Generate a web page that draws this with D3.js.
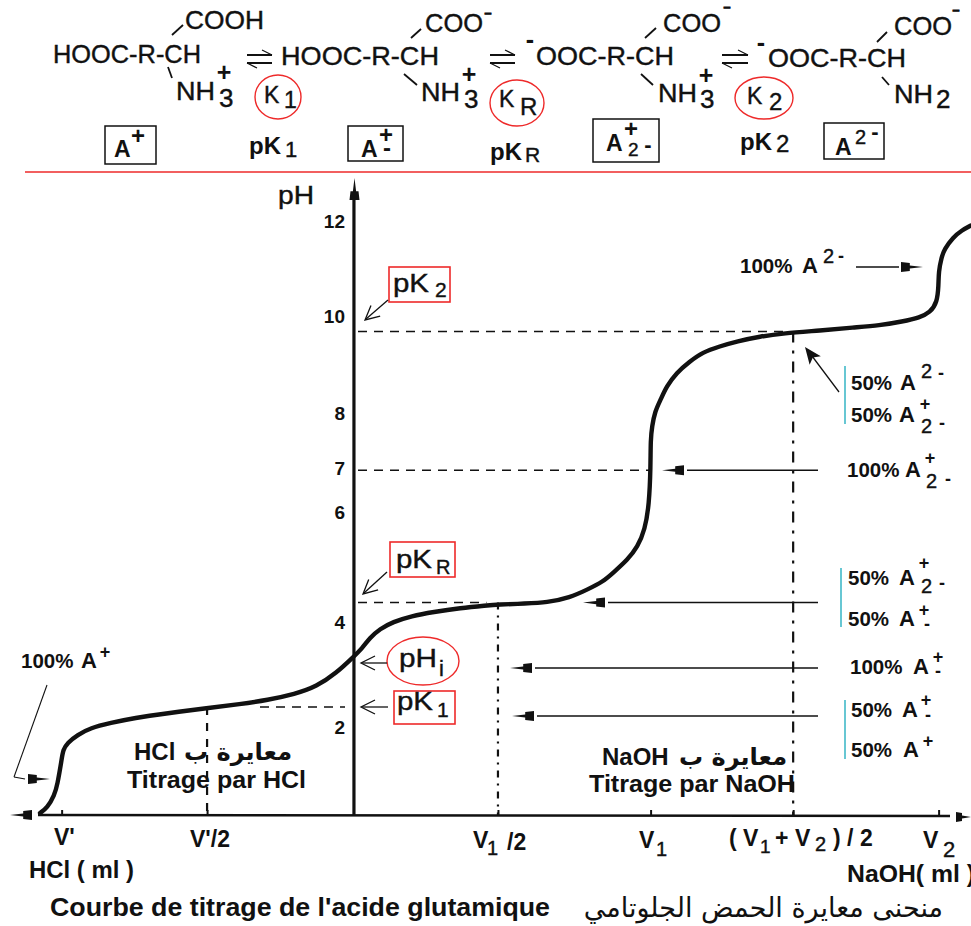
<!DOCTYPE html>
<html>
<head>
<meta charset="utf-8">
<script src="https://cdn.jsdelivr.net/npm/d3@7"></script>
<style>
    html, body { margin: 0; background: #fff; }
    svg { display: block; }
    text { font-family: "Liberation Sans", Arial, sans-serif; fill: #111; }
</style>
</head>
<body>
<svg id="chart"></svg>
<script>
// titration curve: added volume (0 = isoelectric point) and pH
const volumes = [-2.18, -2.13, -2.08, -2.06, -2.03, -2.02, -1.99, -1.92, -1.83, -1.69, -1.53, -1.28, -1.02,
    -0.79, -0.60, -0.41, -0.26, -0.12, -0.01, 0.06, 0.11, 0.18, 0.27, 0.40, 0.55, 0.74, 0.92, 1.0, 1.19, 1.34,
    1.50, 1.62, 1.73, 1.80, 1.90, 1.97, 2.02, 2.05, 2.06, 2.06, 2.07, 2.09, 2.13, 2.17, 2.24, 2.33, 2.42, 2.54,
    2.66, 2.82, 2.98, 3.24, 3.47, 3.65, 3.81, 3.93, 4.0, 4.05, 4.06, 4.06, 4.08, 4.10, 4.16, 4.22, 4.285];
const phValues = [0.04, 0.14, 0.40, 0.60, 1.11, 1.31, 1.45, 1.61, 1.75, 1.85, 1.95, 2.05, 2.15,
    2.23, 2.31, 2.43, 2.58, 2.86, 3.16, 3.36, 3.56, 3.74, 3.88, 4.00, 4.08, 4.16, 4.21, 4.23, 4.25, 4.27,
    4.37, 4.53, 4.69, 4.87, 5.13, 5.39, 5.73, 6.24, 7.00, 7.55, 7.81, 8.11, 8.35, 8.61, 8.89, 9.11, 9.30, 9.42,
    9.52, 9.62, 9.68, 9.74, 9.80, 9.84, 9.92, 10.0, 10.10, 10.30, 10.66, 10.91, 11.21, 11.37, 11.61, 11.75, 11.85];

const phTicks = [2, 4, 6, 7, 8, 10, 12];
const volumeTicks = [-2.03, -1.02, 1.0, 2.06, 3.05, 4.06];

const pK1 = 2.17, pKR = 4.27, pK2 = 9.72, pH7 = 6.93;
const vPrimeHalf = -1.02, v1Half = 1.0, vMid = 3.05, v1 = 2.06;

const width = 971, height = 926;
const svg = d3.select('#chart').attr('width', width).attr('height', height);

const x = d3.scaleLinear().domain([-2.458, 4.285]).range([0, width]);
const y = d3.scaleLinear().domain([0, 12]).range([815, 218]);

const ink = '#111', red = '#ee2a2a', teal = '#35b4c4';

// text helpers, everything stays real text
function txt(px, py, str, size, opts = {}) {
    const t = svg.append('text')
        .attr('x', px).attr('y', py)
        .attr('font-size', size)
        .attr('font-weight', opts.weight || 'normal')
        .attr('text-anchor', opts.anchor || 'start')
        .style('font-family', opts.family || null)
        .text(str);
    // the scan is heavier than a plain regular weight
    if (!opts.weight && !opts.family) t.attr('stroke', ink).attr('stroke-width', 0.4);
    if (opts.len) t.attr('textLength', opts.len).attr('lengthAdjust', 'spacingAndGlyphs');
    return t;
}
const bold = (px, py, str, size, len) => txt(px, py, str, size, { weight: 'bold', len });
const sign = (cx, cy, ch, size) => txt(cx, cy + size * (ch === '+' ? 0.33 : 0.27), ch, size, { weight: 'bold', anchor: 'middle' });
// small charge marks along the top edge
const topDash = (cx, cy) => txt(cx, cy + 3.4, '–', 12.5, { weight: 'bold', anchor: 'middle' }).attr('stroke', ink).attr('stroke-width', 0.9);

function seg(x1, y1, x2, y2, w = 1.5, color = ink, dash = null) {
    return svg.append('line')
        .attr('x1', x1).attr('y1', y1).attr('x2', x2).attr('y2', y2)
        .attr('stroke', color).attr('stroke-width', w)
        .attr('stroke-dasharray', dash);
}

// the little solid arrowheads, tip at (tx, ty) pointing along angle
function head(tx, ty, angle, len = 22) {
    const g = svg.append('g').attr('transform', `translate(${tx},${ty}) rotate(${angle})`);
    g.append('path').attr('d', `M0,0 L${-len * 0.6},-1.6 L${-len * 0.6},-4 L${-len},-5 L${-len},5 L${-len * 0.6},4 L${-len * 0.6},1.6 Z`)
        .attr('fill', ink);
}
function solidTip(tx, ty, angle) {
    const g = svg.append('g').attr('transform', `translate(${tx},${ty}) rotate(${angle})`);
    g.append('path').attr('d', 'M0,0 L-17,-7 L-13,0 L-17,7 Z').attr('fill', ink);
}
function openHead(tx, ty, angle) {
    const g = svg.append('g').attr('transform', `translate(${tx},${ty}) rotate(${angle})`);
    g.append('path').attr('d', 'M-14,-7 L0,0 L-14,7')
        .attr('fill', 'none').attr('stroke', ink).attr('stroke-width', 1.3);
}
function equilibrium(x1, x2, yc) {
    seg(x1, yc - 4, x2, yc - 4, 2);
    seg(x1, yc + 4, x2, yc + 4, 2);
    seg(x2 - 10, yc - 9, x2, yc - 4, 1.2);
    seg(x1 + 10, yc + 9, x1, yc + 4, 1.2);
}

// ---- formula row ----
const fs = 25;
txt(53, 63, 'HOOC-R-CH', fs, { len: 148 });
txt(185, 29, 'COOH', fs, { len: 79 });
seg(172, 35, 183, 25, 1.8);
seg(168, 67, 172, 78, 1.8);
txt(176, 100, 'NH', fs, { len: 39 }); txt(219, 107, '3', 26); sign(224, 73, '+', 25);

equilibrium(247, 272, 59);

txt(281, 65, 'HOOC-R-CH', fs, { len: 158 });
txt(425, 32, 'COO', fs, { len: 58 }); topDash(488, 14);
seg(411, 38, 421, 29, 1.8);
seg(404, 74, 417, 85, 1.8);
txt(421, 101, 'NH', fs, { len: 39 }); txt(464, 108, '3', 26); sign(469, 75, '+', 25);

equilibrium(490, 515, 59);

sign(530, 41, '-', 25);
txt(536, 65, 'OOC-R-CH', fs, { len: 138 });
txt(663, 32, 'COO', fs, { len: 58 }); topDash(727, 8);
seg(645, 38, 656, 28, 1.8);
seg(641, 74, 653, 85, 1.8);
txt(658, 102, 'NH', fs, { len: 39 }); txt(700, 108, '3', 26); sign(706, 76, '+', 25);

equilibrium(722, 748, 59);

sign(761, 44, '-', 25);
txt(768, 67, 'OOC-R-CH', fs, { len: 138 });
txt(894, 35, 'COO', fs, { len: 58 }); topDash(956, 11);
seg(877, 42, 887, 32, 1.8);
seg(882, 77, 889, 85, 1.8);
txt(894, 103, 'NH', fs, { len: 39 }); txt(936, 108, '2', 26);

// equilibrium constants in their red ellipses
function ellipse(cx, cy, rx, ry) {
    svg.append('ellipse').attr('cx', cx).attr('cy', cy).attr('rx', rx).attr('ry', ry)
        .attr('fill', 'none').attr('stroke', red).attr('stroke-width', 1.4);
}
ellipse(278, 97, 23, 22);
txt(264, 103, 'K', 23); txt(284, 108, '1', 23);
ellipse(517, 103, 27, 23);
txt(499, 107, 'K', 23); txt(520, 115, 'R', 24);
ellipse(764, 98, 29, 21);
txt(747, 104, 'K', 23); txt(769, 110, '2', 24);

// species boxes
function box(x1, y1, x2, y2, color = ink, w = 1.5) {
    svg.append('rect').attr('x', x1).attr('y', y1).attr('width', x2 - x1).attr('height', y2 - y1)
        .attr('fill', 'none').attr('stroke', color).attr('stroke-width', w);
}
box(105, 126, 156, 164);
bold(114, 157, 'A', 23); sign(138, 136, '+', 24);
box(348, 126, 403, 161);
bold(361, 157, 'A', 23); sign(386, 135, '+', 24); sign(387, 150, '-', 24);
box(593, 119, 659, 162);
bold(606, 151, 'A', 23); sign(631, 129, '+', 24); txt(628, 156, '2', 19); sign(648, 146, '-', 22);
box(824, 123, 884, 159);
bold(835, 155, 'A', 23); txt(855, 144, '2', 20); sign(875, 133, '-', 22);

bold(249, 154, 'pK', 24); txt(285, 157, '1', 22);
bold(490, 160, 'pK', 24); txt(525, 162, 'R', 21);
bold(740, 150, 'pK', 24); txt(776, 152, '2', 24);

seg(25, 172, width, 172, 1.6, red);

// ---- axes ----
const yAxis = d3.axisLeft(y).tickValues(phTicks).tickSize(0).tickPadding(9);
const yAxisGroup = svg.append('g').attr('transform', `translate(${x(0)},0)`).call(yAxis);
yAxisGroup.select('.domain').remove();
// the printed numbers sit a little off their ticks
const labelShift = { 2: 11, 4: 5, 6: -5, 7: 1, 8: -5, 10: -2, 12: 2 };
yAxisGroup.selectAll('.tick text')
    .attr('dy', d => labelShift[d] + 7)
    .attr('font-size', 19)
    .attr('font-weight', 'bold')
    .style('fill', ink);

const xAxis = d3.axisBottom(x).tickValues(volumeTicks).tickFormat('').tickSizeInner(-5).tickSizeOuter(0);
const xAxisGroup = svg.append('g').attr('transform', `translate(0,${y(0)})`).call(xAxis);
xAxisGroup.select('.domain').remove();
xAxisGroup.selectAll('.tick line').attr('stroke', ink).attr('stroke-width', 2);

seg(x(0), y(0), x(0), 200, 3.2);
seg(38, y(0), 950, y(0) + 1, 2.6);
head(354.5, 178, 270, 22);
head(10, y(0), 180, 22);
head(971, y(0) + 2, 0, 15);

// guide lines at the pK levels
const dashes = '9 7';
seg(358, y(pK2), x(2.98), y(pK2), 1.5, ink, dashes);
seg(358, y(pH7), x(v1), y(pH7), 1.5, ink, dashes);
seg(358, y(pKR), x(0.92), y(pKR), 1.5, ink, dashes);
seg(260, y(pK1), 345, y(pK1), 1.5, ink, dashes);
seg(x(vPrimeHalf), y(pK1), x(vPrimeHalf), y(0), 2.2, ink, '8 8');
seg(x(v1Half), y(pKR), x(v1Half), y(0), 2.2, ink, '7 6 2 6');
seg(x(vMid), y(pK2), x(vMid), y(0), 2.2, ink, '11 8 3 8');

// ---- curve ----
const curvePoints = d3.zip(volumes, phValues);
const line = d3.line().x(d => x(d[0])).y(d => y(d[1])).curve(d3.curveBasis);
svg.append('path').datum(curvePoints)
    .attr('d', line)
    .attr('fill', 'none')
    .attr('stroke', ink)
    .attr('stroke-width', 4.4)
    .attr('stroke-linecap', 'round');

// ---- red tags on the axis ----
box(389, 267, 450, 302, red, 1.6);
txt(393, 292, 'pK', 26, { len: 36 }); txt(435, 297, '2', 21);
seg(388, 300, 366, 319, 1.3); openHead(365, 320, 139);

box(390, 542, 455, 577, red, 1.6);
txt(396, 568, 'pK', 26, { len: 36 }); txt(436, 574, 'R', 20);
seg(387, 572, 364, 593, 1.3); openHead(363, 594, 138);

ellipse(423, 661, 36, 24);
txt(399, 667, 'pH', 26, { len: 38 }); txt(439, 676, 'i', 22);
seg(387, 663, 362, 663, 1.3); openHead(361, 663, 180);

box(394, 691, 455, 724, red, 1.6);
txt(397, 710, 'pK', 26, { len: 36 }); txt(437, 717, '1', 21);
seg(388, 707, 362, 707, 1.3); openHead(361, 707, 180);

// ---- species annotations ----
const pctSize = 20.5, capSize = 22;
bold(21, 668, '100%', pctSize); bold(81, 668, 'A', capSize); sign(105, 652, '+', 18);
seg(47, 685, 14, 777, 1.1);
seg(14, 777, 25, 779, 1.1);
head(50, 779, 0, 22);

bold(740, 273, '100%', pctSize); bold(802, 273, 'A', capSize); txt(823, 263, '2', 20); sign(841, 257, '-', 18);
seg(856, 267, 899, 267, 1.3);
head(923, 267, 0, 22);

bold(851, 390, '50%', pctSize); bold(900, 390, 'A', capSize); txt(921, 378, '2', 20); sign(941, 374, '-', 18);
bold(851, 422, '50%', pctSize); bold(899, 422, 'A', capSize); sign(925, 404, '+', 18); txt(921, 433, '2', 20); sign(942, 424, '-', 18);
seg(845, 366, 845, 424, 1.5, teal);
seg(839, 392, 812, 356, 1.3);
solidTip(805, 347, 233);

bold(847, 477, '100%', pctSize); bold(905, 477, 'A', capSize); sign(930, 458, '+', 18); txt(926, 488, '2', 20); sign(948, 480, '-', 18);
seg(687, y(pH7), 818, y(pH7), 1.6);
head(662, y(pH7), 180, 22);

bold(848, 585, '50%', pctSize); bold(899, 585, 'A', capSize); sign(924, 563, '+', 18); txt(921, 593, '2', 20); sign(942, 584, '-', 18);
bold(848, 626, '50%', pctSize); bold(899, 626, 'A', capSize); sign(924, 610, '+', 18); sign(927, 625, '-', 18);
seg(841, 568, 841, 627, 1.5, teal);
seg(608, y(pKR), 818, y(pKR), 1.6);
head(583, y(pKR), 180, 22);

bold(850, 674, '100%', pctSize); bold(913, 674, 'A', capSize); sign(938, 657, '+', 18); sign(938, 672, '-', 18);
seg(535, 668, 818, 668, 1.6);
head(510, 668, 180, 22);

bold(851, 717, '50%', pctSize); bold(902, 717, 'A', capSize); sign(926, 700, '+', 18); sign(928, 716, '-', 18);
bold(851, 757, '50%', pctSize); bold(903, 757, 'A', capSize); sign(928, 741, '+', 18);
seg(845, 700, 845, 759, 1.5, teal);
seg(537, 716, 818, 716, 1.6);
head(512, 716, 180, 22);

// ---- titration captions ----
const arabicFont = '"DejaVu Sans", "Noto Sans", sans-serif';
bold(134, 760, 'HCl', 24);
txt(292, 760, 'معايرة ب', 24, { family: arabicFont, weight: 'bold' }).attr('direction', 'rtl');
bold(127, 788, 'Titrage par HCl', 24, 179);
bold(602, 765, 'NaOH', 24);
txt(787, 765, 'معايرة ب', 24, { family: arabicFont, weight: 'bold' }).attr('direction', 'rtl');
bold(589, 792, 'Titrage par NaOH', 24, 206);

// ---- volume labels ----
bold(54, 845, "V'", 23);
bold(190, 847, "V'/2", 23);
bold(473, 848, 'V', 23); txt(487, 855, '1', 20); bold(507, 850, '/2', 23);
bold(639, 848, 'V', 23); txt(656, 856, '1', 20);
bold(729, 846, '(', 23); bold(743, 846, 'V', 23); txt(760, 853, '1', 19); bold(775, 846, '+', 23);
bold(795, 846, 'V', 23); txt(815, 851, '2', 20); bold(833, 846, ')', 23); bold(847, 846, '/', 23); bold(860, 846, '2', 23);
bold(923, 848, 'V', 23); txt(943, 857, '2', 22);
bold(29, 878, 'HCl ( ml )', 24, 105);
bold(847, 882, 'NaOH( ml )', 24, 128);

txt(278, 204, 'pH', 25, { len: 36 });

bold(50, 916, "Courbe de titrage de l'acide glutamique", 25, 500);
txt(943, 917, 'منحنى معايرة الحمض الجلوتامي', 27, { family: arabicFont }).attr('direction', 'rtl');
</script>
</body>
</html>
